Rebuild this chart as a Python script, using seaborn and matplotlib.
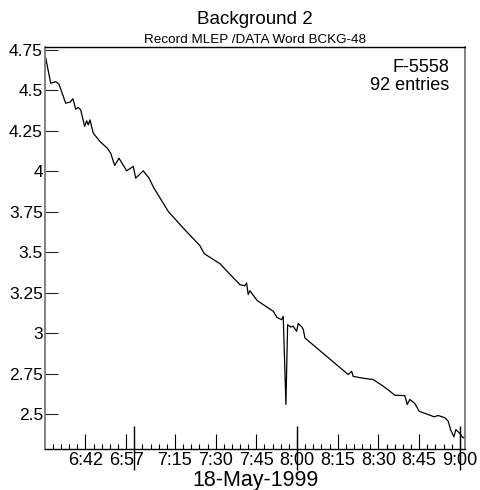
import matplotlib
matplotlib.use("Agg")
import matplotlib.pyplot as plt
import seaborn as sns
import pandas as pd

# Readout time in minutes after 06:00 and the recorded level
minutes_after_6 = [
    27.35, 29.2, 31.04, 32.25, 34.72, 36.31, 37.41, 38.41, 39.37, 40.25,
    41.72, 42.46, 43.05, 43.68, 44.89, 47.36, 50.05, 51.3, 52.78, 54.36,
    57.2, 59.63, 60.52, 63.32, 65.42, 67.26, 72.53, 78.05, 84.21, 85.79,
    91.58, 98.95, 100.79, 101.41, 102.0, 102.63, 105.32, 111.22, 112.6, 114.31,
    114.9, 115.9, 116.52, 117.63, 118.58, 119.84, 120.43, 121.7, 122.3, 122.9,
    138.85, 140.1, 140.69, 143.79, 148.06, 150.53, 151.75, 154.22, 156.06, 159.74,
    160.59, 161.58, 163.43, 165.01, 168.33, 170.54, 172.01, 174.48, 175.7, 176.58,
    177.8, 178.53, 180.0, 181.22, 181.85,
]
level = [
    4.702, 4.544, 4.554, 4.538, 4.421, 4.427, 4.448, 4.384, 4.394, 4.380,
    4.277, 4.312, 4.287, 4.318, 4.236, 4.184, 4.143, 4.112, 4.036, 4.081,
    4.003, 4.030, 3.958, 4.003, 3.958, 3.896, 3.752, 3.649, 3.540, 3.491,
    3.429, 3.299, 3.293, 3.310, 3.238, 3.262, 3.201, 3.135, 3.097, 3.083,
    3.104, 2.559, 3.052, 3.038, 3.042, 3.011, 3.059, 3.040, 3.022, 2.970,
    2.744, 2.764, 2.733, 2.723, 2.713, 2.686, 2.672, 2.641, 2.616, 2.614,
    2.559, 2.590, 2.565, 2.517, 2.497, 2.483, 2.491, 2.477, 2.456, 2.404,
    2.359, 2.404, 2.380, 2.353, 2.359,
]

time_label_minutes = [42, 57, 75, 90, 105, 120, 135, 150, 165, 180]
time_labels = ["6:42", "6:57", "7:15", "7:30", "7:45", "8:00", "8:15", "8:30", "8:45", "9:00"]
hour_minutes = [60, 120, 180]
y_ticks = [2.5, 2.75, 3, 3.25, 3.5, 3.75, 4, 4.25, 4.5, 4.75]
y_labels = ["2.5", "2.75", "3", "3.25", "3.5", "3.75", "4", "4.25", "4.5", "4.75"]

sns.set_style("white")
plt.rcParams["font.family"] = ["Liberation Sans", "DejaVu Sans"]
plt.rcParams["text.color"] = "black"
plt.rcParams["xtick.color"] = "black"
plt.rcParams["ytick.color"] = "black"
plt.rcParams["xtick.labelcolor"] = "black"
plt.rcParams["ytick.labelcolor"] = "black"

df = pd.DataFrame({"t": minutes_after_6, "v": level})

fig = plt.figure(figsize=(4.8, 4.9), dpi=100)
ax = fig.add_axes([45 / 480, 1 - 449 / 490, 420 / 480, 402 / 490])

sns.lineplot(data=df, x="t", y="v", ax=ax, color="black", linewidth=0.9,
             estimator=None, sort=False)

ax.set_xlim(27.1, 181.9)
ax.set_ylim(2.284, 4.768)
ax.set_xlabel("")
ax.set_ylabel("")

# y axis
ax.set_yticks(y_ticks)
ax.set_yticklabels(y_labels, fontsize=12.5)
ax.tick_params(axis="y", left=True, direction="in", length=9, width=0.8,
               pad=1.5, color="#222222", labelcolor="black")

# x axis: labelled ticks, 3-minute minor ticks, hour marks crossing the axis
ax.set_xticks(time_label_minutes)
ax.set_xticklabels(time_labels, fontsize=13)
ax.set_xticks(list(range(30, 181, 3)), minor=True)
ax.tick_params(axis="x", which="major", bottom=True, direction="in", length=11,
               width=0.8, pad=2, color="black", labelcolor="black")
ax.tick_params(axis="x", which="minor", bottom=True, direction="in", length=3.6,
               width=0.8, color="black")
ax.vlines(hour_minutes, -21 / 402, 23 / 402, transform=ax.get_xaxis_transform(),
          colors="black", linewidth=1.0, clip_on=False)

for side in ("top", "bottom"):
    ax.spines[side].set_color("black")
    ax.spines[side].set_linewidth(1.0)
for side in ("left", "right"):
    ax.spines[side].set_color("#7a7a7a")
    ax.spines[side].set_linewidth(1.3)

fig.text(255 / 480, 1 - 19 / 490, "Background 2", ha="center", va="center",
         fontsize=13.5)
fig.text(255 / 480, 1 - 40 / 490, "Record MLEP /DATA Word BCKG-48", ha="center",
         va="center", fontsize=9.7)
fig.text(449 / 480, 1 - 67 / 490, "F-5558", ha="right", va="center", fontsize=13)
fig.text(449 / 480, 1 - 86 / 490, "92 entries", ha="right", va="center", fontsize=13)
fig.text(255 / 480, 1 - 480 / 490, "18-May-1999", ha="center", va="center",
         fontsize=15.5)

fig.savefig("out.png", dpi=100)
